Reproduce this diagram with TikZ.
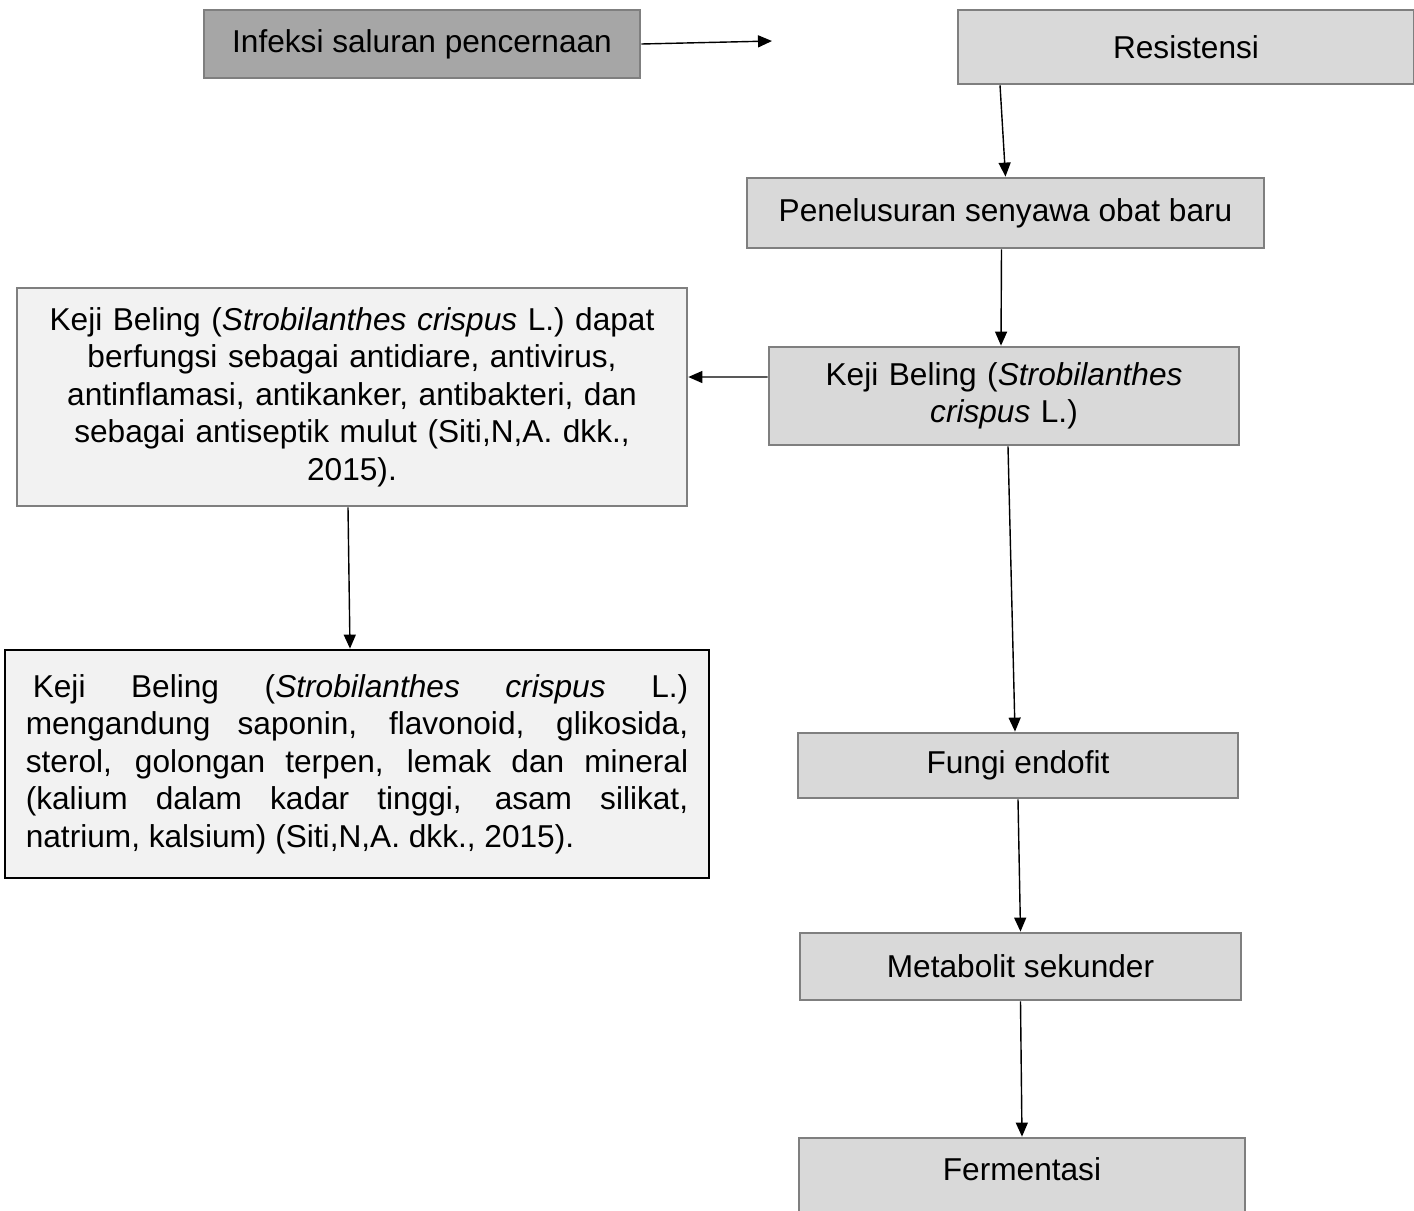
\documentclass[tikz,border=0pt]{standalone}
\usepackage{fontspec}
\setmainfont{Liberation Sans}
\usetikzlibrary{arrows.meta}
\definecolor{darkfill}{HTML}{A6A6A6}
\definecolor{lightfill}{HTML}{D9D9D9}
\definecolor{palefill}{HTML}{F2F2F2}
\definecolor{edgegray}{HTML}{7F7F7F}
\begin{document}
\begin{tikzpicture}[x=0.02cm, y=-0.02cm, font=\fontsize{18}{21.3}\selectfont,
    box/.style={draw=edgegray, line width=1.6pt, fill=lightfill, inner sep=0pt},
    >={Triangle[length=0.28cm, width=0.24cm]}]
      \useasboundingbox (0,0) rectangle (1414,1211);

      \node[box, fill=darkfill, minimum width=8.72cm, minimum height=1.36cm] (1) at (422,44) {Infeksi saluran pencernaan};
      \node[box, minimum width=9.12cm, minimum height=1.48cm] (2) at (1186,47) {Resistensi};
      \node[box, minimum width=10.34cm, minimum height=1.4cm] (3) at (1005.5,213) {Penelusuran senyawa obat baru};
      \node[box, minimum width=9.4cm, minimum height=1.96cm, text width=9cm, align=center] (4) at (1004,396)
        {Keji Beling (\textit{Strobilanthes}\\ \textit{crispus} L.)};
      \node[box, fill=palefill, minimum width=13.4cm, minimum height=4.36cm, text width=12.8cm, align=center] (5) at (352,397)
        {Keji Beling (\textit{Strobilanthes crispus} L.) dapat\\ berfungsi sebagai antidiare, antivirus,\\
         antinflamasi, antikanker, antibakteri, dan\\ sebagai antiseptik mulut (Siti,N,A. dkk.,\\ 2015).};
      \node[box, draw=black, fill=palefill, minimum width=14.08cm, minimum height=4.56cm, text width=13.25cm, align=justify] (6) at (357,764)
        {\hspace*{0.14cm}Keji Beling (\textit{Strobilanthes crispus} L.)\linebreak
         mengandung saponin, flavonoid, glikosida,\linebreak
         sterol, golongan terpen, lemak dan mineral\linebreak
         (kalium dalam kadar tinggi, asam silikat,\linebreak
         natrium, kalsium) (Siti,N,A. dkk., 2015).};
      \node[box, minimum width=8.8cm, minimum height=1.3cm] (7) at (1018,765.5) {Fungi endofit};
      \node[box, minimum width=8.82cm, minimum height=1.34cm] (8) at (1020.5,966.5) {Metabolit sekunder};
      \node[box, minimum width=8.92cm, text height=0.84cm, text depth=0.8cm] (9) at (1022,1179) {Fermentasi};
      \coordinate (a) at (772,41);

      \path[->, line width=0.8pt] (1.east) edge (a);
      \path[->, line width=0.8pt] ([xshift=-3.72cm]2.south) edge (3.north);
      \path[->, line width=0.8pt] ([xshift=-0.08cm]3.south) edge ([xshift=-0.06cm]4.north);
      \path[->, line width=0.8pt] ([yshift=0.38cm]4.west) edge ([yshift=0.4cm]5.east);
      \path[->, line width=0.8pt] ([xshift=0.08cm]4.south) edge ([xshift=-0.06cm]7.north);
      \path[->, line width=0.8pt] ([xshift=-0.08cm]5.south) edge ([xshift=-0.14cm]6.north);
      \path[->, line width=0.8pt] (7.south) edge (8.north);
      \path[->, line width=0.8pt] (8.south) edge (9.north);
    \end{tikzpicture}
\end{document}
